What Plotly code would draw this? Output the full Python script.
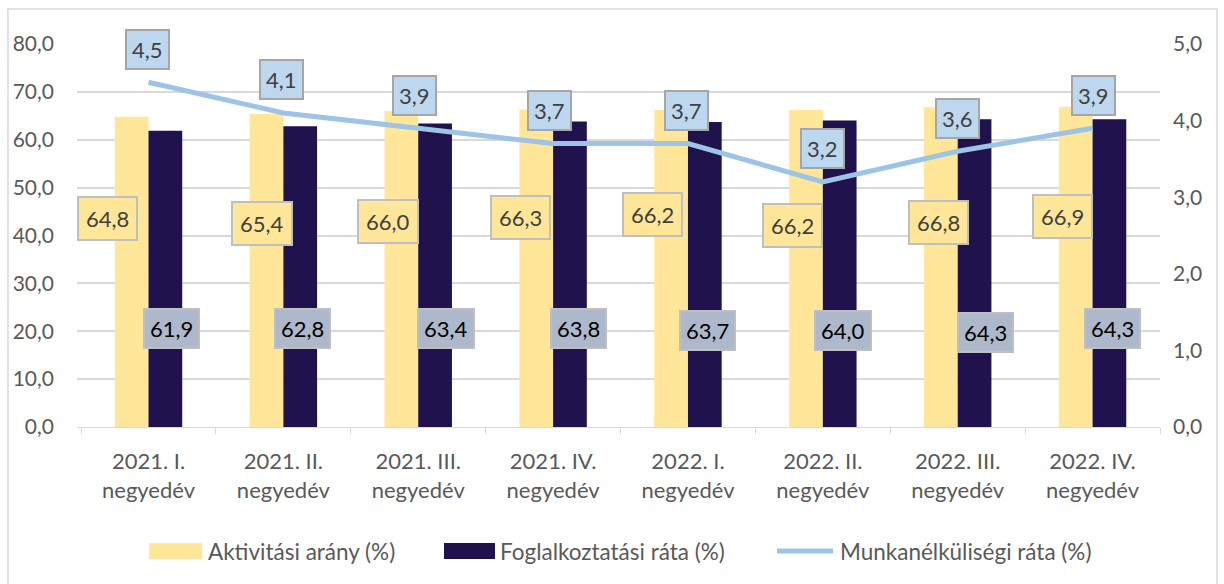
import plotly.graph_objects as go

categories = ["2021. I.<br>negyedév", "2021. II.<br>negyedév", "2021. III.<br>negyedév",
              "2021. IV.<br>negyedév", "2022. I.<br>negyedév", "2022. II.<br>negyedév",
              "2022. III.<br>negyedév", "2022. IV.<br>negyedév"]
aktivitasi = [64.8, 65.4, 66.0, 66.3, 66.2, 66.2, 66.8, 66.9]
foglalkoztatasi = [61.9, 62.8, 63.4, 63.8, 63.7, 64.0, 64.3, 64.3]
munkanelkuli = [4.5, 4.1, 3.9, 3.7, 3.7, 3.2, 3.6, 3.9]
series_names = ["Aktivitási arány (%)", "Foglalkoztatási ráta (%)", "Munkanélküliségi ráta (%)"]

left_ticks = [0, 10, 20, 30, 40, 50, 60, 70, 80]
right_ticks = [0, 1, 2, 3, 4, 5]

# label placement (styling only)
akt_label_y = [43.6, 42.5, 42.9, 43.8, 44.4, 42.1, 42.8, 44.0]
akt_label_dx = [-41, -21, -30, -33, -35, -30, -19, -30]
fog_label_y = [20.6, 20.6, 20.5, 20.5, 20.1, 20.1, 19.7, 20.6]
fog_label_dx = [23, 19, 28, 25, 20, 20, 28, 20]
mun_label_dx = [-1, -2, -4, -4, -1, 0, 0, 1]

YELLOW = "#FFE699"
NAVY = "#20124D"
LBLUE = "#9DC3E6"
FONT = "Lato, Open Sans, sans-serif"

W, H = 1224, 584
ML, MR, MT, MB = 77, 64, 44, 157
PW, PH = W - ML - MR, H - MT - MB


def px(x):
    return (x - ML) / PW


def py(y):
    return (H - MB - y) / PH


fig = go.Figure()
fig.add_trace(go.Bar(x=categories, y=aktivitasi, name=series_names[0],
                     marker=dict(color=YELLOW, line=dict(width=0))))
fig.add_trace(go.Bar(x=categories, y=foglalkoztatasi, name=series_names[1],
                     marker=dict(color=NAVY, line=dict(width=0))))
fig.add_trace(go.Scatter(x=categories, y=munkanelkuli, name=series_names[2],
                         mode="lines", line=dict(color=LBLUE, width=5), yaxis="y2"))

annotations = []
for i, c in enumerate(categories):
    annotations.append(dict(x=c, y=akt_label_y[i], xref="x", yref="y", xshift=akt_label_dx[i],
                            text=f"{aktivitasi[i]:.1f}".replace(".", ","), showarrow=False,
                            font=dict(size=22, color="#404040", family=FONT),
                            bgcolor=YELLOW, bordercolor="#BFBFBF", borderwidth=2, borderpad=7))
    annotations.append(dict(x=c, y=fog_label_y[i], xref="x", yref="y", xshift=fog_label_dx[i],
                            text=f"{foglalkoztatasi[i]:.1f}".replace(".", ","), showarrow=False,
                            font=dict(size=22, color="#000000", family=FONT),
                            bgcolor="#ADB9CA", bordercolor="#BFBFBF", borderwidth=2, borderpad=5))
    annotations.append(dict(x=c, y=munkanelkuli[i], xref="x", yref="y2", xshift=mun_label_dx[i],
                            yshift=33,
                            text=f"{munkanelkuli[i]:.1f}".replace(".", ","), showarrow=False,
                            font=dict(size=22, color="#404040", family=FONT),
                            bgcolor="#BDD7EE", bordercolor="#A6A6A6", borderwidth=2, borderpad=5))

# custom legend
legend_y = 551
leg_items = [(149, 202, 206, YELLOW, "bar"), (444, 495, 498, NAVY, "bar"), (777, 833, 838, LBLUE, "line")]
shapes = [dict(type="rect", xref="paper", yref="paper",
               x0=px(8), x1=px(1217), y0=py(640), y1=py(9),
               line=dict(color="#D9D9D9", width=1.5), fillcolor="rgba(0,0,0,0)", layer="below")]
for (x0, x1, tx, col, kind), name in zip(leg_items, series_names):
    if kind == "bar":
        shapes.append(dict(type="rect", xref="paper", yref="paper", x0=px(x0), x1=px(x1),
                           y0=py(legend_y + 8), y1=py(legend_y - 8), fillcolor=col, line=dict(width=0)))
    else:
        shapes.append(dict(type="line", xref="paper", yref="paper", x0=px(x0), x1=px(x1),
                           y0=py(legend_y), y1=py(legend_y), line=dict(color=col, width=5)))
    annotations.append(dict(x=px(tx), y=py(legend_y), xref="paper", yref="paper", xanchor="left",
                            yanchor="middle", text=name, showarrow=False,
                            font=dict(size=22.5, color="#595959", family=FONT)))

fig.update_layout(
    width=W, height=H,
    margin=dict(l=ML, r=MR, t=MT, b=MB),
    paper_bgcolor="white", plot_bgcolor="white",
    separators=",.",
    showlegend=False,
    barmode="group", bargap=0.5, bargroupgap=0,
    font=dict(family=FONT, color="#595959", size=19),
    xaxis=dict(type="category", showgrid=False, showline=True, linecolor="#D9D9D9", linewidth=1,
               ticks="outside", tickson="boundaries", ticklen=6, tickcolor="#D9D9D9",
               ticklabelstandoff=15, tickfont=dict(size=22, color="#595959")),
    yaxis=dict(range=[0, 80], tickvals=left_ticks, tickformat=".1f", showgrid=True,
               gridcolor="#D9D9D9", gridwidth=1.5, zeroline=False, showline=False,
               ticks="", ticklabelstandoff=22, tickfont=dict(size=21, color="#595959")),
    yaxis2=dict(range=[0, 5], tickvals=right_ticks, tickformat=".1f", overlaying="y", side="right",
                showgrid=False, zeroline=False, showline=False, ticklabelstandoff=12,
                tickfont=dict(size=21, color="#595959")),
    annotations=annotations,
    shapes=shapes,
)

fig.write_html("out.html", config={"displayModeBar": False},
               post_script="document.body.style.margin='0';")
